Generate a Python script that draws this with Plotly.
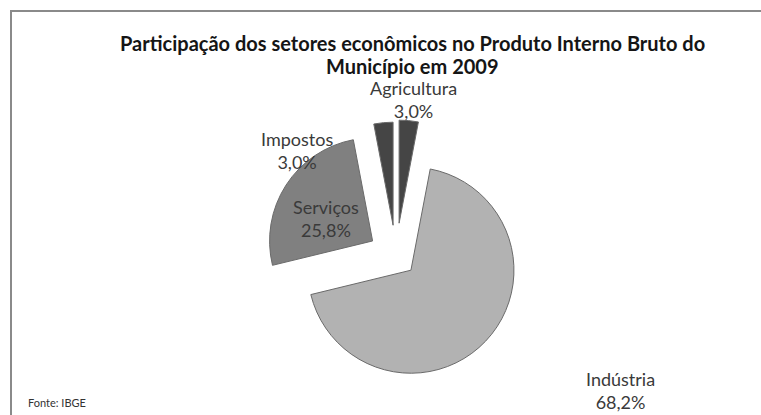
import plotly.graph_objects as go

# Sector shares of the municipal GDP, 2009 (%)
setores = ["Agricultura", "Indústria", "Serviços", "Impostos"]
participacao = [3.0, 68.2, 25.8, 3.0]
destaque = [0.32, 0.20, 0.27, 0.30]
cores = ["#454545", "#b2b2b2", "#808080", "#454545"]

titulo = ["Participação dos setores econômicos no Produto Interno Bruto do",
          "Município em 2009"]
fonte = "Fonte: IBGE"

W, H = 761, 415


def px(x):
    return x / W


def py(y):
    return 1 - y / H


def pct(v):
    return f"{v:.1f}%".replace(".", ",")


fig = go.Figure()

# square pie box centred at (396, 256) px
box = 272
cx, cy = 396, 256
fig.add_trace(go.Pie(
    labels=setores,
    values=participacao,
    sort=False,
    direction="clockwise",
    rotation=0,
    pull=destaque,
    textinfo="none",
    hoverinfo="label+percent",
    showlegend=False,
    marker=dict(colors=cores, line=dict(color="#6a6a6a", width=1)),
    domain=dict(x=[px(cx - box / 2), px(cx + box / 2)],
                y=[py(cy + box / 2), py(cy - box / 2)]),
))

# label positions (px) for each sector
pos_rotulos = {
    "Agricultura": (414, 99),
    "Indústria": (620, 390),
    "Serviços": (326, 218),
    "Impostos": (297, 150),
}

annotations = []
for nome, valor in zip(setores, participacao):
    x, y = pos_rotulos[nome]
    annotations.append(dict(
        x=px(x), y=py(y), xref="paper", yref="paper",
        text=f"{nome}<br>{pct(valor)}", showarrow=False,
        xanchor="center", yanchor="middle", align="center",
        font=dict(family="Lato", size=18, color="#3a3a3a"),
    ))

# two-line bold title
for linha, y in zip(titulo, (43, 66)):
    annotations.append(dict(
        x=px(412), y=py(y), xref="paper", yref="paper",
        text=f"<b>{linha}</b>", showarrow=False,
        xanchor="center", yanchor="middle",
        font=dict(family="Lato", size=20, color="#151515"),
    ))

annotations.append(dict(
    x=px(26), y=py(402), xref="paper", yref="paper",
    text=fonte, showarrow=False, xanchor="left", yanchor="middle",
    font=dict(family="Lato", size=11, color="#333333"),
))

fig.update_layout(
    width=W, height=H,
    margin=dict(l=0, r=0, t=0, b=0),
    paper_bgcolor="white",
    plot_bgcolor="white",
    annotations=annotations,
    shapes=[dict(type="rect", xref="paper", yref="paper",
                 x0=px(11), y0=py(11), x1=1.05, y1=-0.05,
                 line=dict(color="#8a8a8a", width=2), fillcolor="rgba(0,0,0,0)")],
)

fig.write_html("out.html")
